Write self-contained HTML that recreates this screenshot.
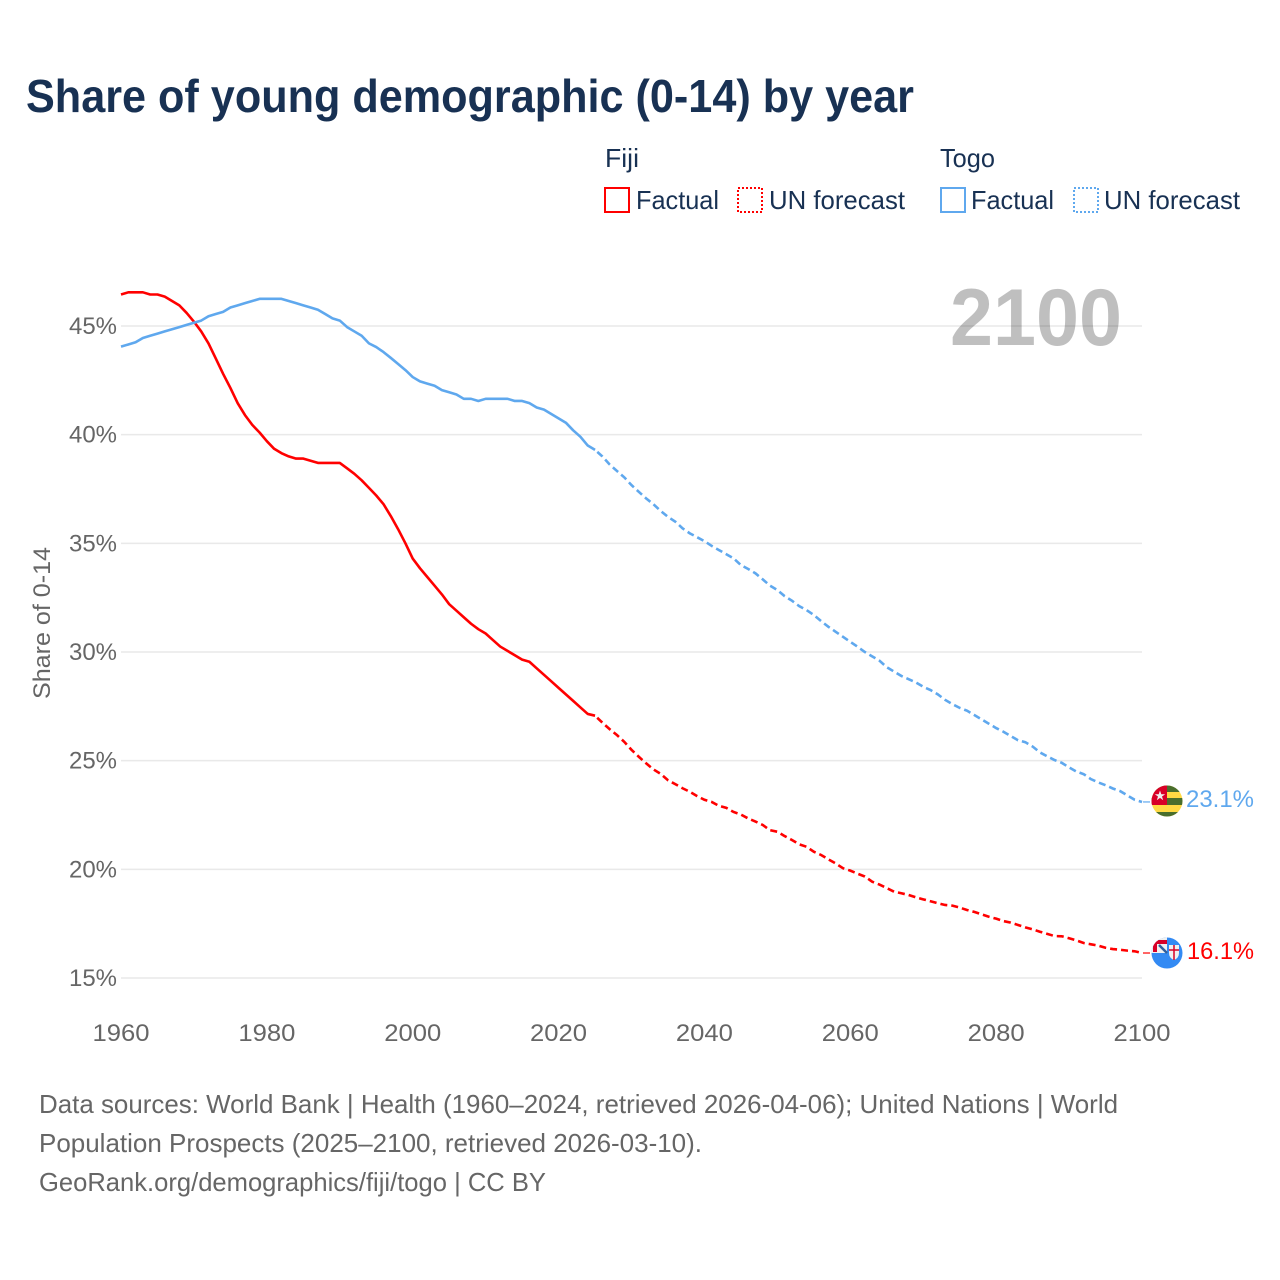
<!DOCTYPE html>
<html lang="en">
<head>
<meta charset="utf-8">
<title>Share of young demographic (0-14) by year</title>
<style>
html,body{margin:0;padding:0;background:#fff;width:1280px;height:1280px;overflow:hidden}
svg{display:block;font-family:"Liberation Sans",sans-serif}
</style>
</head>
<body>
<svg id="chart" xmlns="http://www.w3.org/2000/svg" width="1280" height="1280" viewBox="0 0 1280 1280">
  <defs>
    <clipPath id="clip-togo"><circle cx="1167" cy="801" r="15.5"/></clipPath>
    <clipPath id="clip-fiji"><circle cx="1167" cy="953" r="15.5"/></clipPath>
  </defs>
  <rect width="1280" height="1280" fill="#fff"/>
  <text x="26" y="112" font-size="46" font-weight="700" fill="#183153" textLength="888" lengthAdjust="spacingAndGlyphs">Share of young demographic (0-14) by year</text>

  <g font-size="26" fill="#183153">
    <text x="605" y="167" textLength="34" lengthAdjust="spacingAndGlyphs">Fiji</text>
    <rect x="605" y="188" width="24" height="24" fill="#fff" stroke="#ff0000" stroke-width="2"/>
    <text x="636" y="209" textLength="83" lengthAdjust="spacingAndGlyphs">Factual</text>
    <rect x="738" y="188" width="24" height="24" fill="#fff" stroke="#ff0000" stroke-width="2" stroke-dasharray="2 2"/>
    <text x="769" y="209" textLength="136" lengthAdjust="spacingAndGlyphs">UN forecast</text>
    <text x="940" y="167" textLength="55" lengthAdjust="spacingAndGlyphs">Togo</text>
    <rect x="941" y="188" width="24" height="24" fill="#fff" stroke="#5fa8ee" stroke-width="2"/>
    <text x="971" y="209" textLength="83" lengthAdjust="spacingAndGlyphs">Factual</text>
    <rect x="1074" y="188" width="24" height="24" fill="#fff" stroke="#5fa8ee" stroke-width="2" stroke-dasharray="2 2"/>
    <text x="1104" y="209" textLength="136" lengthAdjust="spacingAndGlyphs">UN forecast</text>
  </g>

  <g id="grid"></g>
  <text x="1122" y="345" text-anchor="end" font-size="81" font-weight="700" fill="#000" fill-opacity="0.25" textLength="172" lengthAdjust="spacingAndGlyphs">2100</text>
  <g id="y-axis"></g>
  <g id="x-axis"></g>
  <text transform="translate(50,623) rotate(-90)" text-anchor="middle" font-size="24" fill="#666" textLength="152" lengthAdjust="spacingAndGlyphs">Share of 0-14</text>
  <g id="series"></g>

  <g clip-path="url(#clip-togo)">
    <rect x="1151" y="785" width="32" height="32" fill="#ffda44"/>
    <rect x="1151" y="785" width="32" height="7" fill="#496e2d"/>
    <rect x="1151" y="798" width="32" height="7" fill="#496e2d"/>
    <rect x="1151" y="812" width="32" height="6" fill="#496e2d"/>
    <rect x="1151" y="785" width="16" height="20" fill="#d80027"/>
    <polygon points="1160,790.5 1161.3,794.2 1165.2,794.2 1162,796.5 1163.2,800.2 1160,797.9 1156.8,800.2 1158,796.5 1154.8,794.2 1158.7,794.2" fill="#f0f0f0"/>
  </g>
  <g clip-path="url(#clip-fiji)">
    <rect x="1151" y="937" width="32" height="32" fill="#338af3"/>
    <rect x="1151" y="937" width="16" height="16" fill="#f0f0f0"/>
    <rect x="1153" y="940" width="4" height="12" fill="#d80027"/>
    <rect x="1153" y="940" width="14" height="4" fill="#d80027"/>
    <path d="M1159,945 L1167,953" stroke="#2f5f9f" stroke-width="2.5"/>
    <path d="M1169,945 h10 v8 q0,5 -5,7 q-5,-2 -5,-7 z" fill="#f0f0f0"/>
    <path d="M1174,945 v15 M1169,950 h10" stroke="#d80027" stroke-width="1.5"/>
  </g>
  <text x="1186" y="807" font-size="24" fill="#5fa8ee" textLength="68" lengthAdjust="spacingAndGlyphs">23.1%</text>
  <text x="1187" y="959" font-size="24" fill="#ff0000" textLength="67" lengthAdjust="spacingAndGlyphs">16.1%</text>

  <g font-size="26" fill="#666">
    <text x="39" y="1113" textLength="1079" lengthAdjust="spacingAndGlyphs">Data sources: World Bank | Health (1960–2024, retrieved 2026-04-06); United Nations | World</text>
    <text x="39" y="1152" textLength="663" lengthAdjust="spacingAndGlyphs">Population Prospects (2025–2100, retrieved 2026-03-10).</text>
    <text x="39" y="1191" textLength="507" lengthAdjust="spacingAndGlyphs">GeoRank.org/demographics/fiji/togo | CC BY</text>
  </g>
</svg>
<script>
const yTicks = [15, 20, 25, 30, 35, 40, 45];
const xTicks = [1960, 1980, 2000, 2020, 2040, 2060, 2080, 2100];
const factualStartYear = 1960;
const forecastStartYear = 2025;
const fijiFactual = [
  46.45,46.55,46.55,46.55,46.45,46.45,46.35,46.15,45.95,45.6,
  45.2,44.75,44.2,43.5,42.8,42.15,41.45,40.9,40.45,40.1,
  39.7,39.35,39.15,39.0,38.9,38.9,38.8,38.7,38.7,38.7,
  38.7,38.45,38.2,37.9,37.55,37.2,36.8,36.25,35.65,35.0,
  34.3,33.85,33.45,33.05,32.65,32.2,31.9,31.6,31.3,31.05,
  30.85,30.55,30.25,30.05,29.85,29.65,29.55,29.25,28.95,28.65,
  28.35,28.05,27.75,27.45,27.15
];
const fijiForecast = [
  27.07,26.75,26.45,26.18,25.87,25.5,25.18,24.88,24.6,24.39,
  24.1,23.92,23.73,23.57,23.37,23.2,23.1,22.92,22.83,22.64,
  22.52,22.34,22.2,22.04,21.8,21.73,21.53,21.35,21.15,21.04,
  20.81,20.66,20.46,20.27,20.05,19.94,19.8,19.67,19.43,19.3,
  19.14,18.97,18.9,18.82,18.71,18.62,18.53,18.44,18.36,18.33,
  18.24,18.13,18.04,17.93,17.82,17.73,17.62,17.55,17.44,17.33,
  17.24,17.13,17.03,16.93,16.92,16.83,16.73,16.61,16.55,16.49,
  16.39,16.33,16.3,16.26,16.23,16.15
];
const togoFactual = [
  44.05,44.15,44.25,44.45,44.55,44.65,44.75,44.85,44.95,45.05,
  45.15,45.25,45.45,45.55,45.65,45.85,45.95,46.05,46.15,46.25,
  46.25,46.25,46.25,46.15,46.05,45.95,45.85,45.75,45.55,45.35,
  45.25,44.95,44.75,44.55,44.2,44.03,43.8,43.53,43.25,42.97,
  42.65,42.45,42.35,42.25,42.05,41.95,41.85,41.65,41.65,41.55,
  41.65,41.65,41.65,41.65,41.55,41.55,41.45,41.25,41.15,40.95,
  40.75,40.55,40.2,39.9,39.5
];
const togoForecast = [
  39.3,39.0,38.63,38.33,38.04,37.68,37.37,37.07,36.8,36.49,
  36.22,36.0,35.69,35.46,35.28,35.1,34.88,34.69,34.5,34.31,
  34.0,33.82,33.62,33.34,33.05,32.85,32.57,32.36,32.11,31.93,
  31.7,31.42,31.16,30.93,30.7,30.47,30.24,30.0,29.8,29.6,
  29.3,29.1,28.9,28.75,28.6,28.4,28.25,28.05,27.8,27.6,
  27.43,27.3,27.1,26.9,26.7,26.5,26.33,26.13,25.94,25.85,
  25.65,25.38,25.2,25.03,24.9,24.69,24.5,24.38,24.15,24.0,
  23.87,23.72,23.6,23.4,23.2,23.1
];

const NS = 'http://www.w3.org/2000/svg';
const xLeft = 121, xRight = 1142, yAt15 = 978, yAt45 = 326;
function xScale(year) { return xLeft + (year - 1960) * (xRight - xLeft) / 140; }
function yScale(v) { return yAt15 - (v - 15) * (yAt15 - yAt45) / 30; }

const gridGroup = document.getElementById('grid');
const yGroup = document.getElementById('y-axis');
yTicks.forEach(function (t) {
  const line = document.createElementNS(NS, 'line');
  line.setAttribute('x1', xLeft);
  line.setAttribute('x2', xRight);
  line.setAttribute('y1', yScale(t));
  line.setAttribute('y2', yScale(t));
  line.setAttribute('stroke', '#e9e9e9');
  line.setAttribute('stroke-width', '1.5');
  
  
  gridGroup.appendChild(line);
  const label = document.createElementNS(NS, 'text');
  label.setAttribute('x', 69);
  label.setAttribute('y', yScale(t) + 8);
  label.setAttribute('font-size', '24');
  label.setAttribute('fill', '#666');
  label.setAttribute('textLength', '48');
  label.setAttribute('lengthAdjust', 'spacingAndGlyphs');
  
  
  label.textContent = t + '%';
  yGroup.appendChild(label);
});

const xGroup = document.getElementById('x-axis');
xTicks.forEach(function (t) {
  const label = document.createElementNS(NS, 'text');
  label.setAttribute('x', xScale(t) - 28.5);
  label.setAttribute('y', 1041);
  label.setAttribute('font-size', '24');
  label.setAttribute('fill', '#666');
  label.setAttribute('textLength', '57');
  label.setAttribute('lengthAdjust', 'spacingAndGlyphs');
  
  
  label.textContent = t;
  xGroup.appendChild(label);
});

function pointsFrom(values, startYear) {
  return values.map(function (v, i) {
    return xScale(startYear + i).toFixed(2) + ',' + yScale(v).toFixed(2);
  });
}

const seriesGroup = document.getElementById('series');
function drawSeries(country, color, factual, forecast) {
  const solidPts = pointsFrom(factual, factualStartYear).concat(pointsFrom(forecast.slice(0, 1), forecastStartYear));
  const dashedPts = pointsFrom(forecast, forecastStartYear);

  const solid = document.createElementNS(NS, 'polyline');
  solid.setAttribute('points', solidPts.join(' '));
  solid.setAttribute('fill', 'none');
  solid.setAttribute('stroke', color);
  solid.setAttribute('stroke-width', '2.6');
  solid.setAttribute('stroke-linejoin', 'round');
  
  
  seriesGroup.appendChild(solid);

  const dashed = document.createElementNS(NS, 'polyline');
  dashed.setAttribute('points', dashedPts.join(' '));
  dashed.setAttribute('fill', 'none');
  dashed.setAttribute('stroke', color);
  dashed.setAttribute('stroke-width', '2.6');
  dashed.setAttribute('stroke-dasharray', '7 4');
  dashed.setAttribute('stroke-dashoffset', '-3');
  
  
  seriesGroup.appendChild(dashed);

  const last = forecast[forecast.length - 1];
  const connector = document.createElementNS(NS, 'line');
  connector.setAttribute('x1', xRight + 1);
  connector.setAttribute('x2', xRight + 8);
  connector.setAttribute('y1', yScale(last));
  connector.setAttribute('y2', yScale(last));
  connector.setAttribute('stroke', color);
  connector.setAttribute('stroke-width', '1.2');
  
  
  seriesGroup.appendChild(connector);
}
drawSeries('fiji', '#ff0000', fijiFactual, fijiForecast);
drawSeries('togo', '#5fa8ee', togoFactual, togoForecast);
</script>
</body>
</html>
